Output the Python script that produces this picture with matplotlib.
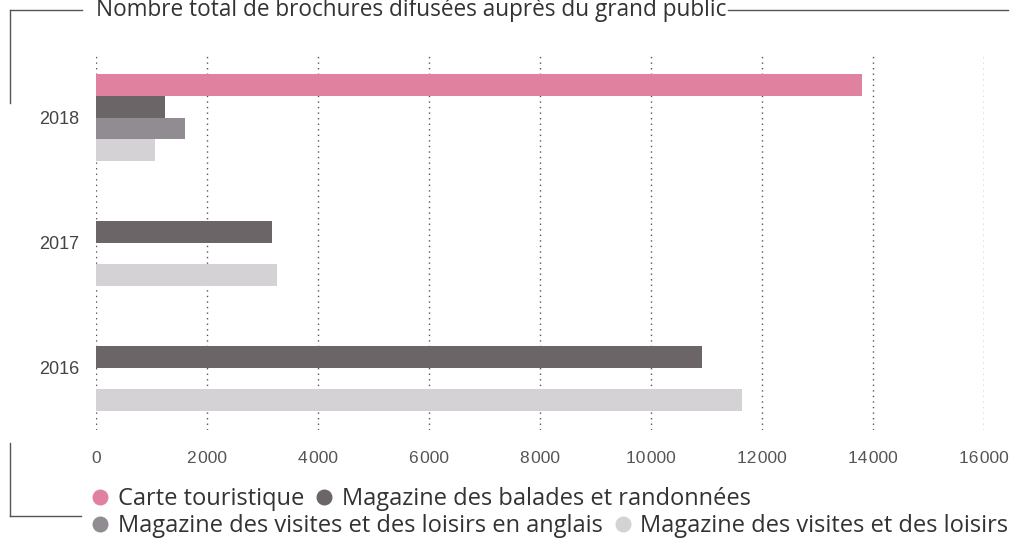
import matplotlib.pyplot as plt
from matplotlib.lines import Line2D
import numpy as np

years = ['2016', '2017', '2018']
series = ['Carte touristique',
          'Magazine des balades et randonnées',
          'Magazine des visites et des loisirs en anglais',
          'Magazine des visites et des loisirs']
colors = ['#e0829f', '#6b6567', '#918c91', '#d5d2d6']

carte = [0, 0, 13800]
balades = [10920, 3170, 1250]
anglais = [0, 0, 1600]
loisirs = [11640, 3260, 1060]

xticks = [0, 2000, 4000, 6000, 8000, 10000, 12000, 14000, 16000]
xlabels = ['0', '2\u200a000', '4\u200a000', '6\u200a000', '8\u200a000',
           '10\u200a000', '12\u200a000', '14\u200a000', '16\u200a000']

title = 'Nombre total de brochures difusées auprès du grand public'
txt_font = 'Open Sans'
num_font = ['Liberation Sans', 'DejaVu Sans']

fig = plt.figure(figsize=(10.14, 5.39), dpi=100)
W, H = 1014, 539
ax = fig.add_axes([96 / W, (H - 430) / H, 888 / W, 375 / H])

h = 0.172
ypos = np.arange(len(years))
offsets = [1.5 * h, 0.5 * h, -0.5 * h, -1.5 * h]
for vals, off, c, name in zip([carte, balades, anglais, loisirs], offsets, colors, series):
    ax.barh(ypos + off, vals, height=h, color=c, label=name, zorder=3)

ax.set_xlim(0, 16000)
ax.set_ylim(-0.5, 2.5)
ax.set_xticks(xticks)
ax.set_xticklabels(xlabels, fontsize=12.5, color='#555555', family=num_font)
ax.set_yticks(ypos)
ax.set_yticklabels(years, fontsize=13, color='#444444', family=num_font)
ax.tick_params(axis='x', length=0, pad=15)
ax.tick_params(axis='y', length=0, pad=12)
ax.grid(axis='x', linestyle=(0, (1, 3)), color='#555555', linewidth=1, zorder=0)
for s in ax.spines.values():
    s.set_visible(False)

# title with bracket lines
ty = 1 - 10 / H
tt = fig.text(96 / W, ty, title, fontsize=16.3, color='#333333', family=txt_font,
              ha='left', va='center')
fig.canvas.draw()
bb = tt.get_window_extent()
lc = '#555555'
fig.add_artist(Line2D([10 / W, 82 / W], [ty, ty], color=lc, lw=1))
fig.add_artist(Line2D([10 / W, 10 / W], [ty, 1 - 103 / H], color=lc, lw=1))
fig.add_artist(Line2D([(bb.x1 + 2) / W, 1008 / W], [ty, ty], color=lc, lw=1))
fig.add_artist(Line2D([10 / W, 10 / W], [1 - 443 / H, 1 - 516 / H], color=lc, lw=1))
fig.add_artist(Line2D([10 / W, 81 / W], [1 - 516 / H, 1 - 516 / H], color=lc, lw=1))

# legend, two rows
def marker(c):
    return Line2D([], [], marker='o', linestyle='', markersize=10.5,
                  markerfacecolor=c, markeredgecolor=c)

rows = [(0, 1, 499), (2, 3, 526)]
for i, j, y in rows:
    leg = fig.legend([marker(colors[i]), marker(colors[j])], [series[i], series[j]],
                     loc='center left', bbox_to_anchor=(93 / W, 1 - y / H), ncol=2,
                     frameon=False, prop={'family': txt_font, 'size': 17},
                     handlelength=0.6, handletextpad=0.45, columnspacing=0.55,
                     borderaxespad=0, borderpad=0)
    for t in leg.get_texts():
        t.set_color('#333333')

fig.savefig('out.png', dpi=100)
